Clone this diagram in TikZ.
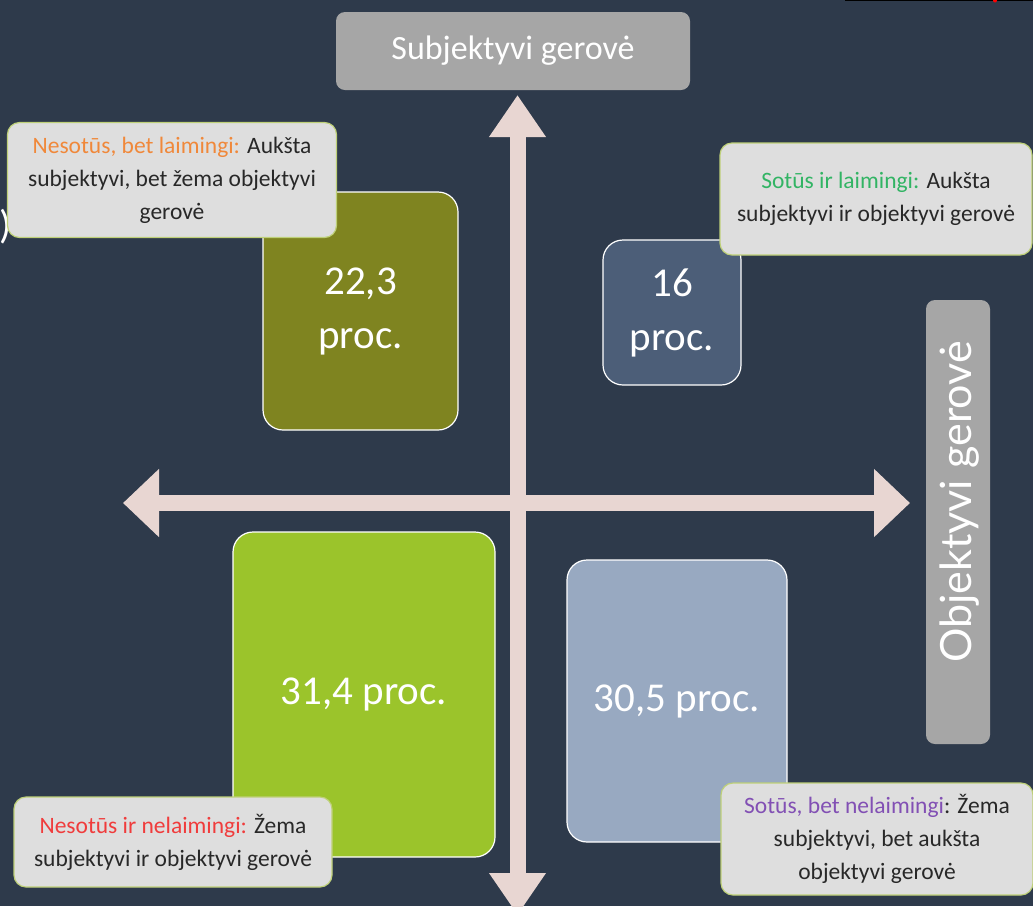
\documentclass[tikz,border=0pt]{standalone}
\usepackage{fontspec}
\setmainfont{Carlito}
\newfontfamily\latofont{Lato}
\usetikzlibrary{arrows.meta}
\definecolor{bgc}{RGB}{46,58,75}
\definecolor{axisc}{RGB}{232,214,210}
\definecolor{olivec}{RGB}{127,132,32}
\definecolor{slatec}{RGB}{76,94,120}
\definecolor{limec}{RGB}{155,196,43}
\definecolor{steelc}{RGB}{152,169,193}
\definecolor{headc}{RGB}{166,166,166}
\definecolor{labelc}{RGB}{222,222,222}
\definecolor{labelborder}{RGB}{190,208,120}
\definecolor{txtc}{RGB}{40,40,40}
\definecolor{orangec}{RGB}{240,136,58}
\definecolor{greenc}{RGB}{50,180,100}
\definecolor{redc}{RGB}{240,60,60}
\definecolor{purplec}{RGB}{130,80,180}
\tikzset{
  quad/.style={draw=white, line width=1.2pt, rounded corners=20pt, text=white,
    font=\fontsize{41}{54}\selectfont, align=center, inner sep=0pt},
  headbox/.style={fill=headc, rounded corners=9pt, text=white, inner sep=0pt},
  note/.style={fill=labelc, draw=labelborder, line width=1.2pt, rounded corners=12pt,
    text=txtc, font=\fontsize{23.5}{33}\selectfont, align=center, inner sep=0pt},
  axis/.style={draw=axisc, line width=16pt},
}
\begin{document}
\begin{tikzpicture}[x=1pt,y=-1pt]
\fill[bgc] (0,0) rectangle (1033,906);
\useasboundingbox (0,0) rectangle (1033,906);
\clip (0,0) rectangle (1033,906);
% stray marks at the edges
\draw[black, line width=1.5pt] (845,0.5) -- (1033,0.5);
\fill[red] (995,0.5) circle (2pt);
\node[text=white, font=\fontsize{40}{40}\selectfont, inner sep=0pt] (paren) at (6,227) {)};
% quadrant boxes
\node[quad, fill=olivec, minimum width=195pt, minimum height=238pt] (q1) at (360.5,311) {22,3\\proc.};
\node[quad, fill=slatec, minimum width=138pt, minimum height=145pt] (q2) at (672,312.5) {16\\proc.};
\node[quad, fill=limec, minimum width=262pt, minimum height=325pt] (q3) at (364,694.5) {31,4 proc.};
\node[quad, fill=steelc, minimum width=220pt, minimum height=282pt] (q4) at (677,701) {30,5 proc.};
% axes
\coordinate (vt) at (517.5,95);
\coordinate (vb) at (517.5,915);
\coordinate (hl) at (123,503);
\coordinate (hr) at (910,503);
\draw[axis, {Triangle[width=54pt,length=42pt]}-{Triangle[width=54pt,length=42pt]}] (vb) -- (vt);
\draw[axis, {Triangle[width=66pt,length=36pt]}-{Triangle[width=66pt,length=36pt]}] (hl) -- (hr);
% axis titles
\node[headbox, minimum width=354pt, minimum height=78pt, font=\fontsize{34}{34}\selectfont] (subj) at (513,51) {Subjektyvi gerovė};
\node[headbox, minimum width=64pt, minimum height=444pt] (obj) at (958,522) {};
\node[text=white, rotate=90, font=\latofont\fontsize{43}{43}\selectfont, inner sep=0pt] (objt) at (960,502) {Objektyvi gerovė};
% notes
\node[note, minimum width=329pt, minimum height=115pt] (n1) at (172,180)
  {\textcolor{orangec}{Nesotūs, bet laimingi:} Aukšta\\subjektyvi, bet žema objektyvi\\gerovė};
\node[note, minimum width=312pt, minimum height=112pt] (n2) at (876,199)
  {\textcolor{greenc}{Sotūs ir laimingi:} Aukšta\\subjektyvi ir objektyvi gerovė};
\node[note, minimum width=318pt, minimum height=90pt] (n3) at (173,842)
  {\textcolor{redc}{Nesotūs ir nelaimingi:} Žema\\subjektyvi ir objektyvi gerovė};
\node[note, minimum width=312pt, minimum height=112pt] (n4) at (877,839)
  {\textcolor{purplec}{Sotūs, bet nelaimingi}: Žema\\subjektyvi, bet aukšta\\objektyvi gerovė};
\end{tikzpicture}
\end{document}
